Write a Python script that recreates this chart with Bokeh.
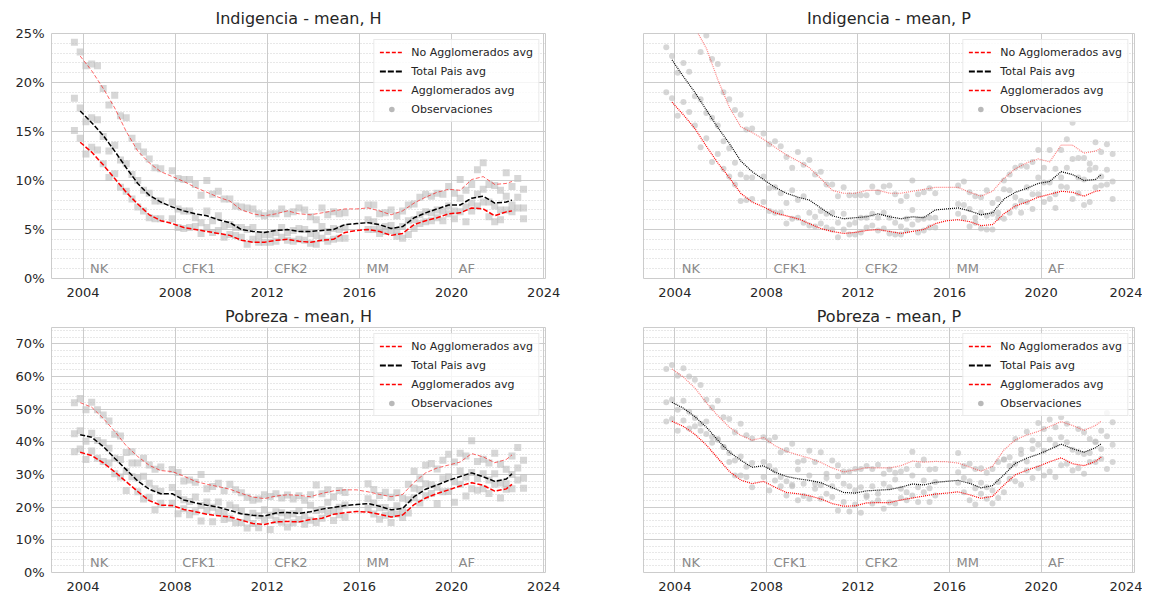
from bokeh.plotting import figure
from bokeh.layouts import column, row
from bokeh.models import Range1d, SingleIntervalTicker, PrintfTickFormatter, Legend, LegendItem
from bokeh.core.properties import value
from bokeh.embed import file_html
from bokeh.resources import INLINE

# ---------------- data (percent) ----------------
LINE_X = [2003.875, 2004.375, 2004.875, 2005.375, 2005.875, 2006.375, 2006.875, 2007.375, 2007.875, 2008.375,
          2008.875, 2009.375, 2009.875, 2010.375, 2010.875, 2011.375, 2011.875, 2012.375, 2012.875, 2013.375,
          2013.875, 2014.375, 2014.875, 2015.375, 2015.875, 2016.375, 2016.875, 2017.375, 2017.875, 2018.375,
          2018.875, 2019.375, 2019.875, 2020.375, 2020.875, 2021.375, 2021.875, 2022.375, 2022.625]

OBS_X = [2003.625, 2003.875, 2004.125, 2004.375, 2004.625, 2004.875, 2005.125, 2005.375, 2005.625, 2005.875,
         2006.125, 2006.375, 2006.625, 2006.875, 2007.125, 2007.375,
         2007.875, 2008.125, 2008.375, 2008.625, 2008.875, 2009.125, 2009.375, 2009.625, 2009.875, 2010.125,
         2010.375, 2010.625, 2010.875, 2011.125, 2011.375, 2011.625, 2011.875, 2012.125, 2012.375, 2012.625,
         2012.875, 2013.125, 2013.375, 2013.625, 2013.875, 2014.125, 2014.375, 2014.625, 2014.875, 2015.125,
         2015.375,
         2016.375, 2016.625, 2016.875, 2017.125, 2017.375, 2017.625, 2017.875, 2018.125, 2018.375, 2018.625,
         2018.875, 2019.125, 2019.375, 2019.625, 2019.875, 2020.125, 2020.375, 2020.625, 2020.875, 2021.125,
         2021.375, 2021.625, 2021.875, 2022.125, 2022.375, 2022.625, 2022.875, 2023.125]

ERA_LABELS = ["NK", "CFK1", "CFK2", "MM", "AF"]
ERA_START = [2004, 2008, 2012, 2016, 2020]

# Indigencia - H
IH_NOAGLO_AVG = [22.7, 21.2, 19.4, 17.4, 15.0, 13.0, 11.8, 10.9, 10.4, 9.9, 9.3, 8.8, 8.3, 7.9, 7.0, 6.6, 6.4, 6.6, 6.9, 6.6,
                 6.5, 6.7, 6.9, 7.1, 7.1, 7.2, 6.9, 6.5, 6.9, 7.7, 8.3, 8.8, 9.1, 9.0, 10.1, 10.4, 9.6, 9.7, 9.9]
IH_TOTAL_AVG = [17.1, 15.9, 14.6, 13.0, 11.3, 9.7, 8.5, 7.8, 7.3, 6.9, 6.6, 6.4, 6.0, 5.7, 5.0, 4.8, 4.7, 4.9, 5.0, 4.8,
                4.8, 4.9, 5.0, 5.5, 5.6, 5.7, 5.5, 5.1, 5.3, 6.2, 6.7, 7.1, 7.5, 7.5, 8.2, 8.4, 7.7, 7.8, 8.0]
IH_AGLO_AVG = [13.9, 12.9, 11.6, 10.2, 8.8, 7.6, 6.5, 5.9, 5.6, 5.2, 5.0, 4.8, 4.6, 4.4, 3.9, 3.7, 3.7, 3.9, 4.0, 3.8,
               3.7, 3.9, 4.0, 4.7, 4.9, 5.0, 4.8, 4.4, 4.6, 5.5, 5.9, 6.2, 6.6, 6.7, 7.2, 7.1, 6.4, 6.8, 6.9]
IH_NOAGLO_OBS = [24.1, 23.1, 21.7, 21.9, 21.7, 19.4, 17.7, 18.7, 16.6, 16.4, 14.3, 13.5, 12.9, 12.2, 11.3, 11.2,
                 11.0, 10.2, 10.1, 10.1, 9.6, 8.5, 10.0, 8.6, 8.9, 8.1, 8.1, 7.4, 7.3, 7.2, 7.1, 6.6, 6.4, 6.6, 6.6, 7.1,
                 6.6, 6.8, 7.2, 7.0, 6.3, 6.0, 7.2, 6.5, 6.8, 6.6, 6.7,
                 7.5, 7.5, 6.6, 6.7, 7.0, 6.4, 6.9, 7.5, 7.6, 8.3, 8.6, 8.4, 8.7, 8.6, 9.4, 8.7, 10.1, 9.0, 9.6, 11.1,
                 11.8, 9.6, 9.5, 9.0, 10.8, 9.4, 10.2, 9.1]
IH_TOTAL_OBS = [18.4, 17.4, 16.0, 16.4, 16.2, 14.5, 13.0, 13.6, 12.1, 11.7, 10.6, 10.0, 9.0, 8.7, 7.9, 7.9,
                7.8, 7.1, 6.9, 6.9, 6.2, 5.7, 6.9, 5.9, 6.4, 5.4, 5.5, 5.2, 5.2, 5.0, 5.2, 4.4, 4.5, 4.5, 4.7, 5.2,
                4.7, 4.9, 5.1, 5.0, 4.6, 4.4, 5.3, 4.8, 5.1, 5.0, 5.2,
                6.0, 5.8, 5.1, 5.3, 5.4, 4.9, 5.3, 5.9, 6.0, 6.5, 6.8, 6.7, 7.0, 6.9, 7.4, 6.9, 8.2, 7.3, 7.7, 8.6,
                9.1, 7.8, 7.4, 7.0, 8.4, 7.5, 8.3, 7.2]
IH_AGLO_OBS = [15.1, 14.3, 12.7, 13.4, 13.1, 11.7, 10.3, 10.7, 9.3, 8.9, 8.1, 7.3, 6.9, 6.2, 6.1, 6.1,
               6.1, 5.2, 5.1, 5.2, 5.3, 4.6, 5.2, 4.7, 4.9, 4.2, 4.5, 4.4, 4.2, 3.5, 4.0, 3.7, 3.7, 3.7, 3.8, 4.2,
               3.9, 3.8, 4.0, 3.9, 3.6, 3.5, 4.1, 3.8, 4.0, 4.1, 4.1,
               5.0, 5.0, 4.6, 4.8, 4.9, 4.3, 4.1, 4.5, 5.1, 5.6, 5.8, 5.9, 6.2, 5.9, 6.6, 6.1, 6.8, 5.8, 6.9, 7.4,
               7.8, 6.3, 5.8, 6.0, 7.0, 6.8, 7.2, 6.1]

# Indigencia - P
IP_NOAGLO_AVG = [28.6, 27.2, 25.6, 23.5, 20.3, 17.5, 15.5, 14.9, 14.2, 13.4, 12.6, 12.0, 11.3, 10.2, 9.0, 8.7, 8.7, 9.0, 9.0, 8.7,
                 8.7, 8.9, 9.1, 9.3, 9.3, 9.3, 8.8, 8.4, 8.9, 10.2, 11.2, 11.8, 12.2, 11.9, 13.6, 13.6, 12.8, 13.0, 13.3]
IP_TOTAL_AVG = [22.3, 20.6, 19.0, 17.2, 15.4, 13.8, 12.0, 10.9, 10.1, 9.3, 8.7, 8.3, 8.0, 7.2, 6.4, 6.1, 6.2, 6.3, 6.6, 6.3,
                6.1, 6.3, 6.2, 7.0, 7.1, 7.2, 6.9, 6.5, 6.7, 8.1, 8.8, 9.2, 9.7, 9.9, 10.9, 10.6, 10.0, 10.1, 10.6]
IP_AGLO_AVG = [18.0, 16.7, 15.3, 13.5, 11.8, 10.3, 8.7, 7.8, 7.3, 6.7, 6.4, 6.1, 5.6, 5.1, 4.8, 4.6, 4.7, 4.9, 5.0, 4.8,
               4.6, 4.8, 5.0, 5.6, 5.9, 6.0, 5.8, 5.4, 5.5, 6.6, 7.4, 7.8, 8.3, 8.6, 8.9, 8.8, 8.4, 8.9, 9.0]
IP_NOAGLO_OBS = [30.0, 28.9, 27.2, 27.6, 26.6, 25.4, 23.1, 24.8, 22.4, 21.9, 19.0, 18.3, 17.2, 16.7, 15.2, 15.3,
                 14.8, 13.7, 14.0, 13.5, 12.4, 11.3, 12.9, 11.6, 12.1, 10.6, 10.9, 9.6, 9.6, 8.4, 9.3, 8.5, 8.5, 8.5, 8.5, 9.4,
                 8.8, 9.4, 9.5, 8.6, 7.9, 8.4, 10.0, 8.6, 8.8, 9.2, 8.7,
                 9.5, 9.9, 8.8, 8.4, 8.3, 9.0, 7.7, 8.1, 10.0, 10.6, 11.3, 11.5, 11.4, 11.9, 13.1, 11.3, 13.1, 11.2, 13.1, 14.2,
                 15.9, 12.3, 12.3, 11.7, 13.9, 12.9, 13.7, 12.7]
IP_TOTAL_OBS = [23.6, 22.7, 21.0, 22.0, 21.1, 18.6, 18.3, 16.9, 16.4, 15.6, 14.0, 13.3, 11.8, 10.6, 10.3, 10.3,
                10.4, 9.2, 9.3, 8.7, 7.7, 9.0, 8.0, 8.4, 6.7, 6.3, 6.9, 6.6, 6.7, 5.7, 6.6, 5.5, 5.7, 6.2, 6.2, 6.6,
                6.2, 6.7, 6.2, 5.7, 5.3, 6.1, 7.0, 6.0, 6.1, 6.2, 6.2,
                7.6, 7.5, 7.1, 6.2, 6.7, 6.4, 6.6, 6.7, 9.1, 9.0, 8.3, 7.9, 9.3, 8.6, 10.3, 9.8, 9.8, 8.6, 10.3, 11.3,
                12.2, 10.3, 10.1, 11.1, 11.3, 10.4, 11.1, 9.9]
IP_AGLO_OBS = [19.0, 18.4, 16.6, 18.0, 17.0, 15.6, 13.4, 14.3, 11.9, 12.7, 11.2, 10.4, 9.6, 7.9, 8.0, 8.1,
               7.8, 6.9, 6.7, 6.7, 5.6, 6.1, 6.2, 5.7, 5.4, 5.3, 5.6, 5.2, 5.0, 4.2, 5.0, 4.5, 4.5, 4.7, 5.2, 5.4,
               4.9, 5.1, 4.6, 4.5, 4.5, 4.9, 5.5, 4.7, 4.9, 5.2, 5.2,
               6.6, 6.2, 5.3, 5.7, 5.1, 5.0, 5.0, 6.2, 6.1, 6.7, 7.4, 6.7, 7.8, 7.1, 8.6, 7.8, 8.1, 7.2, 9.4, 9.3,
               8.1, 8.7, 7.5, 7.8, 9.3, 9.5, 9.6, 8.1]

# Pobreza - H
PH_NOAGLO_AVG = [52.0, 50.6, 47.2, 43.2, 38.8, 35.5, 32.8, 31.2, 30.9, 29.5, 27.9, 27.0, 26.3, 25.5, 24.2, 23.1, 22.6, 23.4, 23.8, 23.6,
                 23.2, 24.2, 25.0, 25.3, 25.3, 24.7, 23.9, 23.2, 23.9, 27.6, 30.5, 32.0, 32.9, 33.8, 36.4, 35.4, 33.6, 34.6, 36.0]
PH_TOTAL_AVG = [42.2, 41.4, 38.6, 35.0, 31.5, 28.0, 25.5, 24.1, 24.1, 22.2, 21.3, 20.6, 20.0, 19.0, 18.0, 17.5, 17.3, 18.2, 18.4, 18.1,
                18.6, 19.4, 19.9, 20.5, 20.8, 21.1, 20.3, 19.2, 19.6, 23.2, 25.5, 26.8, 28.2, 29.4, 30.5, 29.3, 27.9, 28.6, 30.2]
PH_AGLO_AVG = [36.8, 35.8, 33.6, 30.8, 27.8, 24.8, 22.0, 20.6, 20.5, 19.3, 18.6, 17.8, 17.4, 17.0, 16.0, 15.0, 14.7, 15.5, 15.6, 15.5,
               16.2, 16.6, 17.8, 18.3, 18.7, 18.5, 17.8, 17.0, 17.6, 20.8, 22.8, 24.2, 25.3, 26.5, 27.5, 26.7, 24.9, 25.6, 27.0]
PH_NOAGLO_OBS = [52.0, 53.3, 49.8, 52.1, 49.8, 48.2, 46.4, 42.3, 41.8, 36.7, 37.0, 33.5, 35.0, 32.9, 31.6, 32.3,
                 31.5, 30.6, 28.0, 28.3, 27.6, 30.0, 25.6, 26.3, 27.3, 25.0, 27.0, 25.3, 24.4, 23.0, 22.1, 22.5, 23.8, 23.3, 24.1, 22.8,
                 23.7, 22.5, 23.5, 22.1, 23.8, 26.8, 24.1, 25.3, 23.2, 25.1, 24.5,
                 27.2, 25.4, 23.6, 24.6, 23.0, 24.4, 22.7, 27.0, 31.0, 28.7, 32.8, 33.4, 31.7, 34.4, 36.2, 33.8, 36.5, 35.7, 40.3, 34.0,
                 34.7, 33.5, 36.5, 33.1, 31.6, 35.7, 38.3, 34.4]
PH_TOTAL_OBS = [42.5, 43.4, 40.2, 42.6, 40.4, 39.7, 38.0, 35.0, 34.6, 30.9, 33.5, 29.0, 29.5, 27.3, 25.6, 24.8,
                26.0, 24.2, 22.3, 21.7, 23.1, 20.5, 21.6, 20.0, 21.6, 18.4, 20.7, 19.8, 18.7, 16.8, 18.1, 17.4, 19.2, 17.5, 18.6, 18.3,
                17.5, 18.0, 18.9, 17.4, 20.6, 19.0, 19.3, 21.5, 18.8, 20.0, 20.7,
                22.6, 21.3, 19.8, 19.9, 17.9, 20.4, 18.6, 22.3, 25.8, 25.4, 27.2, 26.9, 26.1, 28.7, 29.3, 27.8, 31.1, 29.2, 30.6, 28.8,
                30.2, 28.3, 30.2, 27.4, 27.2, 30.0, 32.0, 28.9]
PH_AGLO_OBS = [37.0, 37.8, 34.6, 37.2, 35.0, 34.0, 33.5, 30.2, 29.2, 25.1, 29.3, 24.7, 22.5, 23.0, 19.2, 21.2,
               21.2, 18.0, 19.5, 17.7, 18.6, 15.8, 19.0, 15.5, 18.5, 16.2, 16.6, 15.2, 15.3, 13.6, 15.0, 13.7, 16.1, 13.2, 16.0, 15.4,
               13.9, 15.2, 16.2, 14.8, 16.0, 15.3, 16.6, 18.3, 15.9, 17.7, 16.9,
               19.6, 17.9, 16.3, 17.5, 15.3, 17.9, 16.8, 18.2, 22.9, 21.3, 23.5, 24.2, 21.1, 24.7, 24.8, 21.5, 27.0, 23.4, 25.6, 25.2,
               25.6, 24.2, 27.0, 22.8, 25.5, 25.6, 28.3, 25.8]

# Pobreza - P
PP_NOAGLO_AVG = [62.3, 59.8, 56.5, 52.0, 48.0, 44.5, 42.0, 40.5, 41.3, 38.8, 37.1, 36.0, 35.0, 33.7, 32.0, 30.8, 31.4, 32.1, 32.0, 32.0,
                 32.7, 34.1, 33.8, 34.0, 33.9, 33.5, 32.3, 31.0, 32.5, 37.5, 40.6, 42.1, 43.2, 44.7, 46.2, 45.0, 43.5, 45.0, 46.3]
PP_TOTAL_AVG = [52.1, 50.3, 47.7, 44.5, 40.5, 36.9, 34.4, 32.2, 32.7, 30.7, 29.4, 28.7, 28.2, 27.5, 26.0, 24.5, 24.3, 25.0, 25.2, 25.4,
                26.1, 27.1, 26.8, 27.6, 27.9, 28.2, 27.3, 25.9, 26.6, 29.9, 33.4, 35.0, 36.2, 37.7, 39.3, 37.9, 36.8, 38.2, 39.4]
PP_AGLO_AVG = [46.3, 44.7, 42.3, 39.0, 35.0, 31.0, 28.3, 27.2, 27.9, 26.1, 24.5, 24.1, 23.5, 22.5, 21.1, 20.3, 20.4, 21.3, 21.4, 21.4,
               22.2, 22.8, 23.4, 24.0, 24.3, 24.7, 23.8, 22.7, 23.3, 26.8, 29.9, 31.3, 32.5, 33.9, 35.1, 33.3, 32.7, 34.0, 35.3]
PP_NOAGLO_OBS = [62.3, 63.5, 60.2, 62.5, 60.0, 59.0, 57.4, 52.9, 50.5, 52.6, 47.5, 47.0, 42.9, 45.5, 42.0, 41.0,
                 41.4, 40.4, 41.4, 36.8, 37.5, 39.4, 33.8, 34.3, 37.3, 33.8, 36.8, 30.2, 34.3, 32.8, 30.9, 30.9, 31.7, 31.7, 32.6, 31.7,
                 33.0, 30.2, 31.5, 30.5, 30.9, 31.7, 37.0, 32.8, 34.6, 31.5, 31.7,
                 36.6, 32.6, 33.3, 31.7, 31.9, 30.5, 31.7, 33.8, 34.6, 35.3, 40.9, 37.6, 43.1, 40.4, 45.8, 43.9, 46.8, 44.5, 47.5, 45.5,
                 50.6, 43.9, 42.9, 40.9, 40.1, 43.4, 48.8, 46.0]
PP_TOTAL_OBS = [52.1, 52.9, 49.8, 52.6, 49.2, 47.3, 45.5, 46.2, 41.5, 40.6, 38.4, 36.6, 34.3, 35.5, 32.4, 33.5,
                33.8, 32.6, 31.2, 29.2, 27.9, 26.9, 31.5, 27.2, 29.7, 27.2, 26.7, 28.9, 26.4, 29.5, 27.2, 26.4, 25.1, 26.1, 23.6, 26.4,
                24.1, 27.2, 26.1, 28.5, 25.6, 24.6, 29.7, 26.1, 28.2, 25.8, 27.7,
                30.7, 28.9, 27.9, 25.8, 27.5, 26.1, 25.1, 27.7, 34.6, 32.6, 33.3, 36.3, 34.0, 37.8, 39.1, 37.3, 40.7, 39.1, 41.4, 39.9,
                37.6, 36.8, 36.3, 36.6, 39.9, 37.8, 41.7, 39.1]
PP_AGLO_OBS = [46.2, 47.0, 43.4, 46.5, 44.1, 44.8, 43.4, 42.4, 39.7, 40.9, 38.4, 33.8, 29.7, 29.7, 29.2, 26.1,
               29.2, 25.1, 28.2, 26.4, 23.6, 26.4, 22.1, 23.4, 22.6, 25.6, 22.6, 24.1, 23.1, 19.0, 21.6, 18.7, 20.8, 18.3, 23.1, 21.1,
               22.1, 19.5, 21.4, 21.1, 22.8, 22.1, 23.6, 21.6, 24.6, 21.6, 23.6,
               27.5, 24.6, 22.1, 20.8, 24.1, 22.6, 21.1, 22.8, 24.6, 28.7, 27.9, 26.9, 31.2, 28.9, 31.9, 29.7, 30.9, 29.2, 32.8, 33.3,
               31.2, 31.9, 30.2, 33.8, 33.8, 34.8, 31.7, 33.8]

for arr in [IH_NOAGLO_AVG, IH_TOTAL_AVG, IH_AGLO_AVG, IP_NOAGLO_AVG, IP_TOTAL_AVG, IP_AGLO_AVG,
            PH_NOAGLO_AVG, PH_TOTAL_AVG, PH_AGLO_AVG, PP_NOAGLO_AVG, PP_TOTAL_AVG, PP_AGLO_AVG]:
    assert len(arr) == len(LINE_X), len(arr)
for arr in [IH_NOAGLO_OBS, IH_TOTAL_OBS, IH_AGLO_OBS, IP_NOAGLO_OBS, IP_TOTAL_OBS, IP_AGLO_OBS,
            PH_NOAGLO_OBS, PH_TOTAL_OBS, PH_AGLO_OBS, PP_NOAGLO_OBS, PP_TOTAL_OBS, PP_AGLO_OBS]:
    assert len(arr) == len(OBS_X), len(arr)

FONT = "DejaVu Sans"
TXT = "#262626"
GRID = "#cccccc"


def panel(title, ymax, yint, avgs, obs, left, top, marker, dotted):
    if left:
        borders = dict(min_border_left=51, min_border_right=48)
        fw = 494
    else:
        borders = dict(min_border_left=50, min_border_right=8)
        fw = 491
    p = figure(frame_width=fw, frame_height=245,
               min_border_top=33 if top else 24, min_border_bottom=24,
               x_range=Range1d(2002.63, 2024.08), y_range=Range1d(0, ymax),
               output_backend="svg", toolbar_location=None, **borders)
    p.background_fill_color = "white"
    p.border_fill_color = "white"
    p.outline_line_color = GRID
    p.outline_line_width = 1

    p.title.text = title
    p.title.text_font = FONT
    p.title.text_font_style = "normal"
    p.title.text_font_size = "16px"
    p.title.text_color = TXT
    p.title.align = "center"
    p.title.standoff = 11 if top else 4

    p.xaxis.ticker = SingleIntervalTicker(interval=4, num_minor_ticks=0)
    p.yaxis.ticker = SingleIntervalTicker(interval=yint, num_minor_ticks=5)
    p.yaxis.formatter = PrintfTickFormatter(format="%d%%")
    for ax in (p.xaxis, p.yaxis):
        ax.axis_line_color = None
        ax.major_tick_line_color = None
        ax.minor_tick_line_color = None
        ax.major_tick_out = 0
        ax.major_tick_in = 0
        ax.minor_tick_out = 0
        ax.major_label_text_font = FONT
        ax.major_label_text_font_size = "13px"
        ax.major_label_text_color = TXT
    p.xaxis.major_label_standoff = 9
    p.yaxis.major_label_standoff = 7
    if not left:
        p.yaxis.major_label_text_color = None

    p.xgrid.grid_line_color = GRID
    p.ygrid.grid_line_color = GRID
    p.ygrid.minor_grid_line_color = "#c4c4c4"
    p.ygrid.minor_grid_line_dash = "1 2"
    p.ygrid.minor_grid_line_width = 0.8

    # observations
    for ys in obs:
        p.scatter(OBS_X, ys, marker=marker, size=7 if marker == "square" else 6,
                  fill_color="#bdbdbd", fill_alpha=0.6, line_color=None)

    up, tot, low = avgs
    if dotted:
        p.line(LINE_X, up, line_color="red", line_alpha=0.5, line_width=1.2, line_dash="1 1")
        p.line(LINE_X, tot, line_color="black", line_width=1.2, line_dash="1 1")
        p.line(LINE_X, low, line_color="red", line_width=1.2, line_dash="1 1")
    else:
        p.line(LINE_X, up, line_color="red", line_alpha=0.6, line_width=1.0, line_dash="4 2")
        p.line(LINE_X, tot, line_color="black", line_width=1.5, line_dash="5 2")
        p.line(LINE_X, low, line_color="red", line_width=1.5, line_dash="5 2")

    # era labels
    p.text(x=ERA_START, y=[ymax * 0.042] * len(ERA_START), text=ERA_LABELS, x_offset=7,
           text_font=value(FONT), text_font_size=value("13px"), text_color="#8a8a8a",
           text_baseline="alphabetic", text_align="left")

    # legend (proxy entries drawn outside the visible range)
    hx = [1990.0, 1991.0]
    hy = [-100.0, -100.0]
    r1 = p.line(hx, hy, line_color="#ff0000", line_alpha=1.0, line_width=1.5, line_dash="4 2")
    r2 = p.line(hx, hy, line_color="#000000", line_alpha=1.0, line_width=2, line_dash="6 2")
    r3 = p.line(hx, hy, line_color="#ff0000", line_alpha=1.0, line_width=1.5, line_dash="4 2")
    r4 = p.scatter(hx, hy, marker="circle", size=9, fill_color="grey", fill_alpha=0.55, line_color=None)
    legend = Legend(items=[LegendItem(label="No Agglomerados avg", renderers=[r1]),
                           LegendItem(label="Total Pais avg", renderers=[r2]),
                           LegendItem(label="Agglomerados avg", renderers=[r3]),
                           LegendItem(label="Observaciones", renderers=[r4])],
                    location="top_right")
    legend.label_text_font = FONT
    legend.label_text_font_size = "11px"
    legend.label_text_color = TXT
    legend.glyph_width = 24
    legend.glyph_height = 14
    legend.label_height = 14
    legend.spacing = 5
    legend.padding = 5
    legend.margin = 6
    legend.label_standoff = 8
    legend.border_line_color = "#d6d6d6"
    legend.background_fill_alpha = 0.8
    p.add_layout(legend)
    return p


p1 = panel("Indigencia - mean, H", 25, 5, (IH_NOAGLO_AVG, IH_TOTAL_AVG, IH_AGLO_AVG),
           (IH_NOAGLO_OBS, IH_TOTAL_OBS, IH_AGLO_OBS), True, True, "square", False)
p2 = panel("Indigencia - mean, P", 25, 5, (IP_NOAGLO_AVG, IP_TOTAL_AVG, IP_AGLO_AVG),
           (IP_NOAGLO_OBS, IP_TOTAL_OBS, IP_AGLO_OBS), False, True, "circle", True)
p3 = panel("Pobreza - mean, H", 75, 10, (PH_NOAGLO_AVG, PH_TOTAL_AVG, PH_AGLO_AVG),
           (PH_NOAGLO_OBS, PH_TOTAL_OBS, PH_AGLO_OBS), True, False, "square", False)
p4 = panel("Pobreza - mean, P", 75, 10, (PP_NOAGLO_AVG, PP_TOTAL_AVG, PP_AGLO_AVG),
           (PP_NOAGLO_OBS, PP_TOTAL_OBS, PP_AGLO_OBS), False, False, "circle", True)

layout = column(row(p1, p2), row(p3, p4))
open("out.html", "w").write(file_html(layout, INLINE))
